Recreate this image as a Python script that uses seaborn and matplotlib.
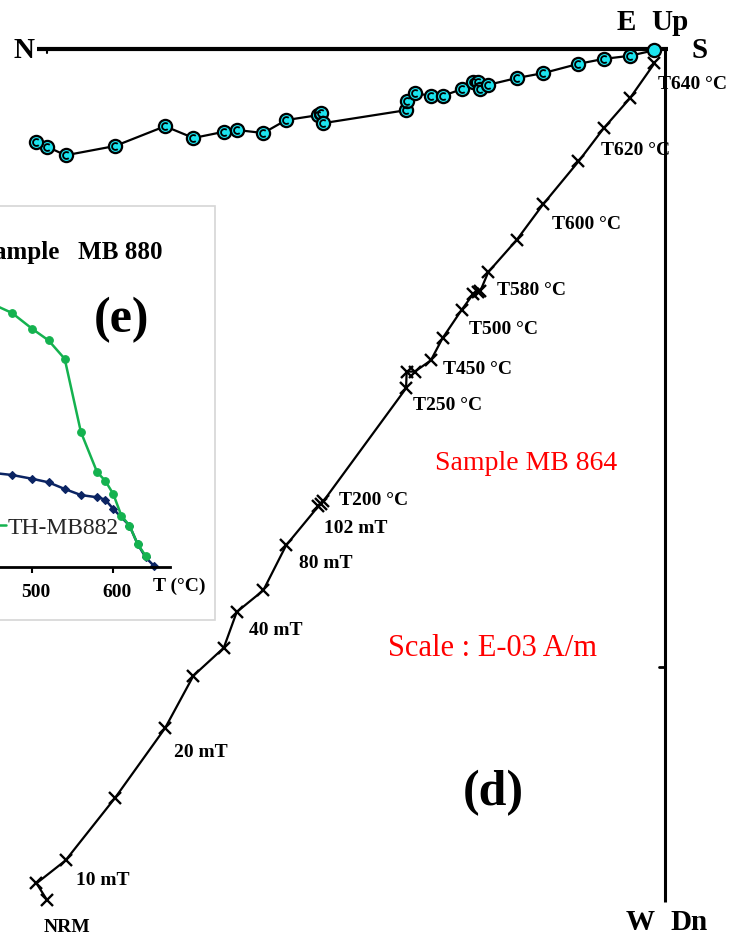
import matplotlib
matplotlib.use("Agg")
import matplotlib.pyplot as plt
from matplotlib.patches import Rectangle
from matplotlib.path import Path
from matplotlib.transforms import ScaledTranslation
import pandas as pd
import seaborn as sns

W, H = 743, 937          # canvas size in pixels (dpi 100)
PX = 61.8                # pixels per unit of magnetisation (E-03 A/m)

# ---- Orthogonal (Zijderveld) projection, sample MB 864, E-03 A/m ----
north = [10.00, 10.17, 9.70, 8.90, 8.09, 7.63, 7.14, 6.93, 6.50, 6.13,
         5.61, 5.57, 5.53, 4.19, 4.18, 4.05, 3.79, 3.60, 3.29, 3.10,
         3.02, 2.99, 2.86, 2.40, 1.97, 1.40, 0.99, 0.57, 0.17]
down = [13.77, 13.50, 13.13, 12.12, 10.99, 10.14, 9.69, 9.11, 8.76, 8.03,
        7.40, 7.36, 7.32, 5.49, 5.22, 5.22, 5.04, 4.68, 4.22, 3.96,
        3.94, 3.92, 3.61, 3.09, 2.51, 1.82, 1.28, 0.80, 0.23]
west = [1.59, 1.50, 1.72, 1.57, 1.25, 1.44, 1.34, 1.31, 1.36, 1.15,
        1.07, 1.04, 1.20, 0.99, 0.84, 0.71, 0.76, 0.76, 0.65, 0.53,
        0.53, 0.65, 0.58, 0.47, 0.39, 0.24, 0.16, 0.11, 0.02]
step_labels = [(0, "NRM"), (2, "10 mT"), (4, "20 mT"), (7, "40 mT"),
               (9, "80 mT"), (12, "102 mT"), (12, "T200 °C"),
               (13, "T250 °C"), (16, "T450 °C"), (18, "T500 °C"),
               (22, "T580 °C"), (24, "T600 °C"), (26, "T620 °C"),
               (28, "T640 °C")]
scale_tick = 10.0

# ---- Thermal demagnetisation curves (normalised intensity) ----
temp_880 = [450, 475, 500, 520, 540, 560, 580, 590, 600, 620, 630, 640, 650]
mag_880 = [0.297, 0.290, 0.278, 0.267, 0.246, 0.227, 0.220, 0.213, 0.183,
           0.131, 0.073, 0.031, 0.005]
temp_882 = [450, 475, 500, 520, 540, 560, 580, 590, 600, 610, 620, 630, 640]
mag_882 = [0.828, 0.799, 0.749, 0.713, 0.655, 0.425, 0.299, 0.272, 0.230,
           0.162, 0.131, 0.073, 0.036]
temp_ticks = [500, 600]

# label placement: (dx px, dy px below point, alignment)
label_offsets = {
    "NRM": (20, 31, "center"), "10 mT": (10, 24, "left"),
    "20 mT": (9, 28, "left"), "40 mT": (12, 22, "left"),
    "80 mT": (13, 22, "left"), "102 mT": (1, 31, "left"),
    "T200 °C": (16, 2.5, "left"), "T250 °C": (7, 21, "left"),
    "T450 °C": (12, 13, "left"), "T500 °C": (7, 23, "left"),
    "T580 °C": (9, 22, "left"), "T600 °C": (9, 24, "left"),
    "T620 °C": (-3, 26, "left"), "T640 °C": (4, 25, "left"),
}

sns.set_theme(style="white")
plt.rcParams["font.family"] = ["Liberation Serif", "DejaVu Serif"]


def fx(x):
    return x / W


def fy(y):
    return 1 - y / H


fig = plt.figure(figsize=(W / 100, H / 100), dpi=100)
fig.patch.set_facecolor("white")

# ---------------- main orthogonal plot ----------------
ax = fig.add_axes([0, 0, 1, 1], zorder=0)
ax.set_xlim(-665 / PX, 78 / PX)
ax.set_ylim(-887 / PX, 50 / PX)
ax.axis("off")

zij = pd.DataFrame({"north": north, "down": down, "west": west})
zij["x"] = -zij["north"]
zij["y_vert"] = -zij["down"]
zij["y_horiz"] = -zij["west"]

# axes of the diagram
ax.plot([-628 / PX, 3 / PX], [0, 0], color="black", lw=3.0,
        solid_capstyle="butt", zorder=1)
ax.plot([0, 0], [2 / PX, -853 / PX], color="black", lw=2.2,
        solid_capstyle="butt", zorder=1)
ax.plot([-scale_tick, -scale_tick], [0, -4 / PX], color="black", lw=1.5)
ax.plot([0, -6 / PX], [-scale_tick, -scale_tick], color="black", lw=2.0)

# vertical projection (crosses)
sns.lineplot(data=zij, x="x", y="y_vert", sort=False, estimator=None, ax=ax,
             color="black", lw=1.6, marker="x", ms=9, mec="black", mew=1.7,
             zorder=3)
# horizontal projection (circles)
sns.lineplot(data=zij, x="x", y="y_horiz", sort=False, estimator=None, ax=ax,
             color="black", lw=1.6, marker="o", ms=9.5, mfc="#1CE3EE",
             mec="black", mew=1.6, zorder=3)
c_mark = Path.arc(50, 310)
inner = zij.iloc[:-1]
ax.plot(inner["x"], inner["y_horiz"], ls="none", marker=c_mark, ms=5,
        mfc="none", mec="black", mew=1.3, zorder=4)

for idx, text in step_labels:
    dx, dy, ha = label_offsets[text]
    ax.annotate(text, xy=(zij.loc[idx, "x"], zij.loc[idx, "y_vert"]),
                xytext=(dx, -dy), textcoords="offset pixels", ha=ha,
                va="baseline", fontsize=14, fontweight="bold", color="black")

# direction letters
for txt, x, y in [("N", 24, 58), ("E", 626, 30), ("Up", 670, 30),
                  ("S", 700, 58), ("W", 640, 930), ("Dn", 689, 930)]:
    fig.text(fx(x), fy(y), txt, ha="center", va="baseline", fontsize=21,
             fontweight="bold", color="black", zorder=5)

fig.text(fx(435), fy(470), "Sample MB 864", ha="left", va="baseline",
         fontsize=20, color="#FF0000", zorder=5)
fig.text(fx(388), fy(656), "Scale : E-03 A/m", ha="left", va="baseline",
         fontsize=22, color="#FF0000", zorder=5)
fig.text(fx(493), fy(793), "(d)", ha="center", va="center", fontsize=36,
         fontweight="bold", color="black", zorder=5)

# ---------------- inset: thermal demagnetisation ----------------
fig.add_artist(Rectangle((fx(-5), fy(621)), 220 / W, (621 - 207) / H,
                         transform=fig.transFigure, facecolor="white",
                         edgecolor="#D6D6D6", lw=1.2, zorder=1))

ax_in = fig.add_axes([fx(-129.7), fy(568.3), 299.7 / W, 318.3 / H], zorder=2)
ax_in.set_facecolor("none")
sns.lineplot(x=temp_880, y=mag_880, ax=ax_in, sort=False, estimator=None,
             color="#0B2463", lw=1.8, marker="D", ms=4.5, mec="#0B2463",
             mew=0.8, clip_on=False)
sns.lineplot(x=temp_882, y=mag_882, ax=ax_in, sort=False, estimator=None,
             color="#14B24F", lw=1.8, marker="o", ms=5.5, mec="#14B24F",
             mew=0.8, label="TH-MB882", clip_on=False)
ax_in.set_xlim(300, 670)
ax_in.set_ylim(0, 1)
ax_in.set_xticks(temp_ticks)
ax_in.set_yticks([])
ax_in.set_xlabel("")
ax_in.set_ylabel("")
for side in ["top", "right", "left"]:
    ax_in.spines[side].set_visible(False)
ax_in.spines["bottom"].set_color("black")
ax_in.spines["bottom"].set_linewidth(2.0)
ax_in.tick_params(axis="x", bottom=True, direction="out", length=4, width=1.5,
                  color="black", labelsize=14, pad=7, labelcolor="black")
shift = ScaledTranslation(4 / 100, 0, fig.dpi_scale_trans)
for lbl in ax_in.get_xticklabels():
    lbl.set_fontweight("bold")
    lbl.set_transform(lbl.get_transform() + shift)

handles, labels = ax_in.get_legend_handles_labels()
ax_in.legend(handles, labels, loc="lower right",
             bbox_to_anchor=(fx(119), fy(539)), bbox_transform=fig.transFigure,
             frameon=False, borderpad=0, borderaxespad=0,
             handletextpad=0.1, handlelength=2.0,
             prop={"family": "Liberation Serif", "size": 17})

fig.text(fx(153), fy(591), "T (°C)", ha="left", va="baseline", fontsize=14,
         fontweight="bold", color="black", zorder=5)
fig.text(fx(163), fy(259), "Sample   MB 880", ha="right", va="baseline",
         fontsize=18, fontweight="bold", color="black", zorder=5)
fig.text(fx(121.5), fy(320), "(e)", ha="center", va="center", fontsize=36,
         fontweight="bold", color="black", zorder=5)

fig.savefig("out.png", dpi=100, facecolor="white")
